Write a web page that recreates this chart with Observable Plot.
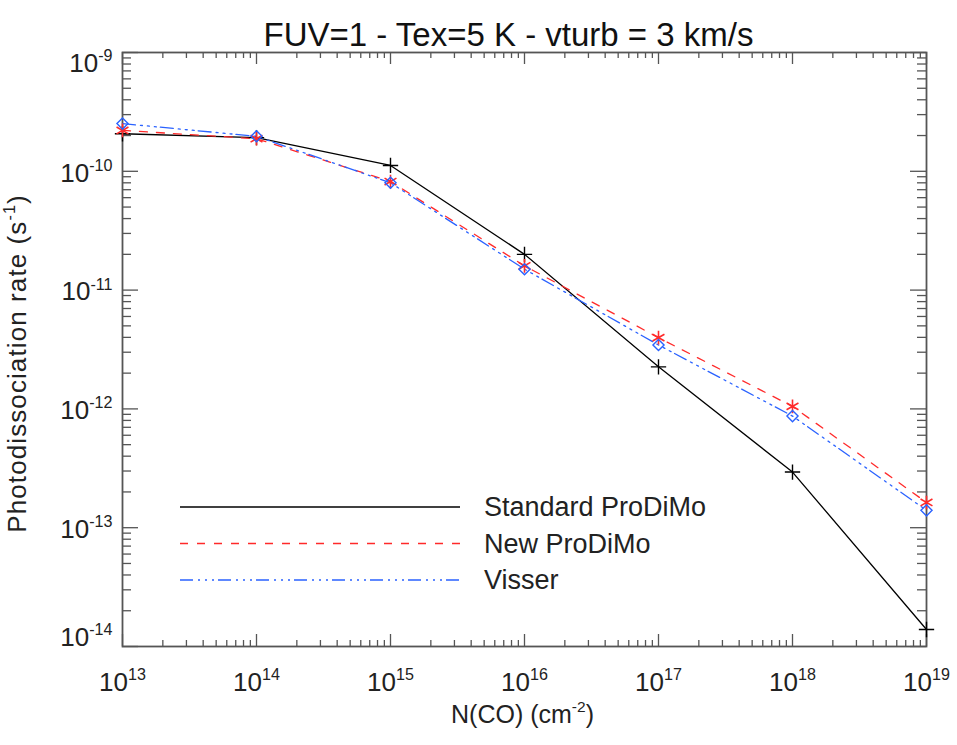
<!DOCTYPE html>
<html>
<head>
<meta charset="utf-8">
<script src="https://cdn.jsdelivr.net/npm/d3@7"></script>
<script src="https://cdn.jsdelivr.net/npm/@observablehq/plot@0.6"></script>
<style>
  html, body { margin: 0; padding: 0; background: #fff; }
</style>
</head>
<body>
<div id="chart"></div>
<script>
// ---- data ----
const columnDensity = [1e13, 1e14, 1e15, 1e16, 1e17, 1e18, 1e19];
const standardProDiMo = [2.07e-10, 1.92e-10, 1.12e-10, 2.0e-11, 2.26e-12, 2.94e-13, 1.39e-14];
const newProDiMo = [2.21e-10, 1.88e-10, 8.2e-11, 1.6e-11, 3.98e-12, 1.05e-12, 1.63e-13];
const visser = [2.52e-10, 1.97e-10, 8.0e-11, 1.5e-11, 3.45e-12, 8.7e-13, 1.40e-13];
const seriesNames = ["Standard ProDiMo", "New ProDiMo", "Visser"];
const xMajorExponents = [13, 14, 15, 16, 17, 18, 19];
const yMajorExponents = [-14, -13, -12, -11, -10, -9];
const titleText = "FUV=1 - Tex=5 K - vturb = 3 km/s";
const xLabelText = "N(CO) (cm^{-2})";
const yLabelText = "Photodissociation rate (s^{-1})";

// ---- styles ----
const colors = {black: "#000000", red: "#ff2a2a", blue: "#2a62ff"};
const axisColor = "#555555";
const font = "'Liberation Sans', Arial, Helvetica, sans-serif";

const fmtPow = v => "10^{" + Math.round(Math.log10(v)) + "}";

const xMajor = xMajorExponents.map(e => Math.pow(10, e));
const yMajor = yMajorExponents.map(e => Math.pow(10, e));
const yMajorInner = yMajor.slice(1, -1);
const yMajorBottom = [yMajor[0]];
const yMajorTop = [yMajor[yMajor.length - 1]];
const xMinor = [];
for (let e = 13; e < 19; e++) for (let m = 2; m <= 9; m++) xMinor.push(m * Math.pow(10, e));
const yMinor = [];
for (let e = -14; e < -9; e++) for (let m = 2; m <= 9; m++) yMinor.push(m * Math.pow(10, e));

const rows = s => columnDensity.map((x, i) => ({x, y: s[i]}));
const dStd = rows(standardProDiMo), dNew = rows(newProDiMo), dVis = rows(visser);

const W = 957, H = 745, mT = 52, mB = 99, mL = 122, mR = 31;
const fw = W - mL - mR, fh = H - mT - mB;

const dashNew = "8,9";
const dashVis = "13,5,2,5,2,5,2,4";

const yAxisOpts = {anchor: "left", label: null, tickSize: 0, tickPadding: 10, fontSize: 26, tickFormat: fmtPow, fill: "#222"};

const svg = Plot.plot({
  width: W, height: H,
  marginTop: mT, marginBottom: mB, marginLeft: mL, marginRight: mR,
  style: {fontFamily: font, background: "#fff", color: "#222"},
  x: {type: "log", domain: [1e13, 1e19]},
  y: {type: "log", domain: [1e-14, 1e-9]},
  marks: [
    // tick marks (IDL box style, inward)
    Plot.tickX(xMajor, {x: d => d, insetTop: fh - 12, stroke: axisColor, strokeWidth: 1.3}),
    Plot.tickX(xMajor, {x: d => d, insetBottom: fh - 12, stroke: axisColor, strokeWidth: 1.3}),
    Plot.tickX(xMinor, {x: d => d, insetTop: fh - 6, stroke: axisColor, strokeWidth: 1.3}),
    Plot.tickX(xMinor, {x: d => d, insetBottom: fh - 6, stroke: axisColor, strokeWidth: 1.3}),
    Plot.tickY(yMajor, {y: d => d, insetRight: fw - 16, stroke: axisColor, strokeWidth: 1.3}),
    Plot.tickY(yMajor, {y: d => d, insetLeft: fw - 16, stroke: axisColor, strokeWidth: 1.3}),
    Plot.tickY(yMinor, {y: d => d, insetRight: fw - 9, stroke: axisColor, strokeWidth: 1.3}),
    Plot.tickY(yMinor, {y: d => d, insetLeft: fw - 9, stroke: axisColor, strokeWidth: 1.3}),
    Plot.frame({stroke: axisColor, strokeWidth: 1.8}),
    Plot.axisX(xMajor, {anchor: "bottom", label: null, tickSize: 0, tickPadding: 26, fontSize: 26, tickFormat: fmtPow, fill: "#222"}),
    Plot.axisY(yMajorInner, {...yAxisOpts, dy: 2}),
    Plot.axisY(yMajorBottom, {...yAxisOpts, dy: -9}),
    Plot.axisY(yMajorTop, {...yAxisOpts, dy: 11}),
    // data
    Plot.line(dStd, {x: "x", y: "y", stroke: colors.black, strokeWidth: 1.3}),
    Plot.line(dNew, {x: "x", y: "y", stroke: colors.red, strokeWidth: 1.3, strokeDasharray: dashNew}),
    Plot.line(dVis, {x: "x", y: "y", stroke: colors.blue, strokeWidth: 1.3, strokeDasharray: dashVis}),
    Plot.dot(dStd, {x: "x", y: "y", symbol: "plus", r: 5, stroke: colors.black, strokeWidth: 1.4}),
    Plot.dot(dNew, {x: "x", y: "y", symbol: "asterisk", r: 6.5, stroke: colors.red, strokeWidth: 1.6}),
    Plot.dot(dVis, {x: "x", y: "y", symbol: "diamond2", r: 5, stroke: colors.blue, strokeWidth: 1.4}),
    // labels
    Plot.text([titleText], {frameAnchor: "top", textAnchor: "middle", dy: -30, dx: -16, fontSize: 33, fill: "#111"}),
    Plot.text([xLabelText], {frameAnchor: "bottom", textAnchor: "middle", dy: 76, dx: -2, fontSize: 25, fill: "#222"}),
    Plot.text([yLabelText], {frameAnchor: "left", textAnchor: "middle", dx: -105, dy: 14, rotate: -90, fontSize: 26, fill: "#222"})
  ]
});

// legend (inside plot area, lower left)
const legend = d3.select(svg).append("g").attr("font-family", font).attr("text-anchor", "start");
const legendItems = [
  {name: seriesNames[0], color: colors.black, dash: null},
  {name: seriesNames[1], color: colors.red, dash: dashNew},
  {name: seriesNames[2], color: colors.blue, dash: dashVis}
];
legendItems.forEach((it, i) => {
  const y = 507 + i * 36.5;
  legend.append("line").attr("x1", 180).attr("x2", 460).attr("y1", y).attr("y2", y)
    .attr("stroke", it.color).attr("stroke-width", 1.3)
    .attr("stroke-dasharray", it.dash);
  legend.append("text").attr("x", 484).attr("y", y).attr("dy", "0.35em").attr("text-anchor", "start")
    .attr("font-size", 27).attr("fill", "#222").text(it.name);
});

document.getElementById("chart").appendChild(svg);

// turn "^{...}" markers into real superscript tspans
d3.select(svg).selectAll("text").each(function () {
  const el = this;
  if (el.textContent.startsWith("Photodissociation")) el.setAttribute("letter-spacing", "1.1");
  const targets = el.querySelectorAll("tspan").length ? Array.from(el.querySelectorAll("tspan")) : [el];
  targets.forEach(node => {
    const txt = node.textContent;
    if (!txt.includes("^{")) return;
    const fs = parseFloat(window.getComputedStyle(node).fontSize) || 16;
    const raise = fs * 0.42;
    const parts = txt.split(/(\^\{[^}]*\})/).filter(p => p.length);
    while (node.firstChild) node.removeChild(node.firstChild);
    let shifted = false;
    parts.forEach(p => {
      const t = document.createElementNS("http://www.w3.org/2000/svg", "tspan");
      if (p.startsWith("^{")) {
        t.textContent = p.slice(2, -1);
        t.setAttribute("font-size", (fs * 0.62).toFixed(1));
        t.setAttribute("dy", (-raise).toFixed(1));
        shifted = true;
      } else {
        t.textContent = p;
        if (shifted) { t.setAttribute("dy", raise.toFixed(1)); shifted = false; }
      }
      node.appendChild(t);
    });
  });
});
</script>
</body>
</html>
